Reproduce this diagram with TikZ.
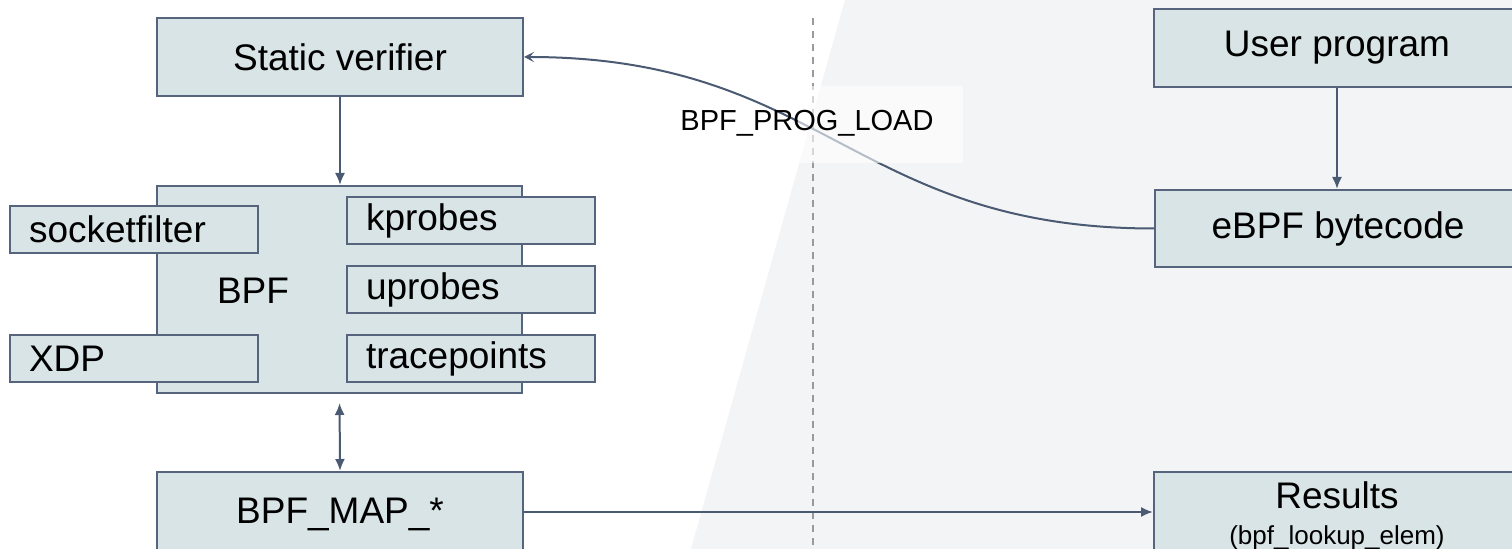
\documentclass[tikz,border=0pt]{standalone}
\usepackage{fontspec}
\setmainfont{Liberation Sans}
\usetikzlibrary{arrows.meta}
\definecolor{boxfill}{HTML}{D8E4E6}
\definecolor{boxline}{HTML}{56657D}
\definecolor{arrowcol}{HTML}{4A5A72}
\definecolor{bggray}{HTML}{F3F4F6}
\definecolor{dashgray}{HTML}{9A9A9A}
\tikzset{
  box/.style={draw=boxline, fill=boxfill, line width=1pt, rectangle, inner sep=0pt,
    font=\fontsize{18.5}{22}\selectfont, align=center},
  bigbox/.style={box, minimum width=183pt, minimum height=39pt},
  smallbox/.style={box, text width=105pt, inner xsep=9.5pt, minimum height=23.5pt, align=left},
  conn/.style={draw=arrowcol, line width=1pt},
  filledtip/.style={-{Latex[length=6pt,width=5pt]}},
}
\begin{document}
\begin{tikzpicture}[x=0.5pt,y=-0.5pt]
\clip (0,0) rectangle (1512,549);
\fill[white] (0,0) rectangle (1512,549);
% grey user-space region
\fill[bggray] (845,0) -- (1512,0) -- (1512,549) -- (691,549) -- cycle;
% dashed separator
\coordinate (dtop) at (813,18);
\coordinate (dbot) at (813,549);
\draw[dashgray, line width=1pt, dash pattern=on 3.5pt off 3pt] (dtop) -- (dbot);

% boxes
\node[bigbox] (sv) at (340,57) {Static verifier};
\node[box, minimum width=182.5pt, minimum height=103.5pt] (bpf) at (339.5,289.5) {};
\node[font=\fontsize{18.5}{22}\selectfont] (bpflabel) at (253,291) {BPF};
\node[smallbox] (sock) at (134,229.5) {socketfilter};
\node[smallbox] (xdp) at (134,358.5) {XDP};
\node[smallbox] (kp) at (471,220.5) {kprobes};
\node[smallbox] (up) at (471,290) {uprobes};
\node[smallbox] (tp) at (471,358.5) {tracepoints};
\node[bigbox, minimum height=42pt] (map) at (340,514) {BPF\_MAP\_*};

\node[bigbox] (user) at (1337,48) {User program};
\node[bigbox, minimum height=38.5pt] (ebpf) at (1338,228.5) {eBPF bytecode};
\node[bigbox, minimum height=44pt] (res) at (1337,516)
  {Results\\[-4pt]{\fontsize{13}{15}\selectfont (bpf\_lookup\_elem)}};

% connectors
\draw[conn, filledtip] (sv.south) -- (sv.south |- bpf.north);
\draw[conn, {Latex[length=6pt,width=5pt]}-{Latex[length=6pt,width=5pt]}, shorten <=4.5pt] (bpf.south) -- (map.north);
\draw[conn, filledtip] (user.south) -- (user.south |- ebpf.north);
\coordinate (mapout) at ([yshift=1pt]map.east);
\draw[conn, filledtip] (mapout) -- (mapout -| res.west);
\draw[conn, -{Stealth[length=5pt,width=5pt,inset=2.2pt]}] (ebpf.west) .. controls +(-300,0) and +(300,0) .. (sv.east);

% label with translucent backing
\fill[white, opacity=0.6] (798,86) rectangle (963,163);
\node[font=\fontsize{14.5}{17}\selectfont] (loadlbl) at (807,123) {BPF\_PROG\_LOAD};
\end{tikzpicture}
\end{document}
